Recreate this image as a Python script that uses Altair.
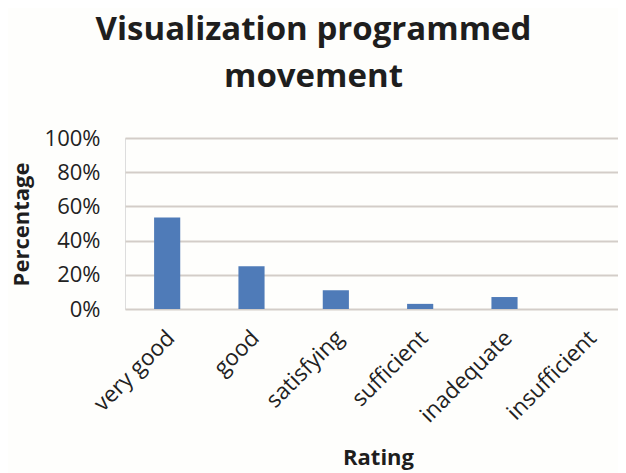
import altair as alt
import pandas as pd

ratings = ["very good", "good", "satisfying", "sufficient", "inadequate", "insufficient"]
percentages = [0.535, 0.25, 0.11, 0.03, 0.07, 0.0]
y_ticks = [0, 0.2, 0.4, 0.6, 0.8, 1.0]

df = pd.DataFrame({"Rating": ratings, "Percentage": percentages})

FONT = "Open Sans"

chart = (
    alt.Chart(df)
    .mark_bar(color="#4f7bb8")
    .encode(
        x=alt.X(
            "Rating:N",
            sort=ratings,
            scale=alt.Scale(range=[0, 506], paddingInner=0.69, paddingOuter=0.345),
            axis=alt.Axis(
                title="Rating",
                labelAngle=-45,
                labelAlign="right",
                labelBaseline="middle",
                labelPadding=25,
                labelOffset=4,
                labelFontSize=22.5,
                labelFont=FONT,
                labelColor="#222222",
                ticks=False,
                domain=False,
                titleFont=FONT,
                titleFontSize=22,
                titleFontWeight="bold",
                titleColor="#1e1e1e",
                titleY=155,
                titleBaseline="alphabetic",
            ),
        ),
        y=alt.Y(
            "Percentage:Q",
            scale=alt.Scale(domain=[0, 1]),
            axis=alt.Axis(
                title="Percentage",
                values=y_ticks,
                format=".0%",
                labelFontSize=22,
                labelFont=FONT,
                labelColor="#222222",
                labelPadding=25,
                ticks=False,
                domain=False,
                gridColor="#d3cdc8",
                gridWidth=2,
                titleFont=FONT,
                titleFontSize=22,
                titleFontWeight="bold",
                titleColor="#1e1e1e",
                titleX=-97,
                titleY=86,
                titleAngle=270,
                titleAlign="center",
                titleBaseline="alphabetic",
            ),
        ),
    )
    .properties(
        width=493,
        height=171,
        autosize=alt.AutoSizeParams(type="none"),
        padding={"left": 117, "top": 130, "right": 0, "bottom": 164},
        title=alt.TitleParams(
            text=["Visualization programmed", "movement"],
            font=FONT,
            fontSize=33,
            fontWeight="bold",
            color="#1e1e1e",
            lineHeight=47,
            anchor="middle",
            frame="group",
            dx=-58,
            offset=33,
        ),
    )
    .configure_view(stroke=None)
    .configure(background="#fefefc")
)

chart.save("out.html", embed_options={"renderer": "svg", "actions": False})
